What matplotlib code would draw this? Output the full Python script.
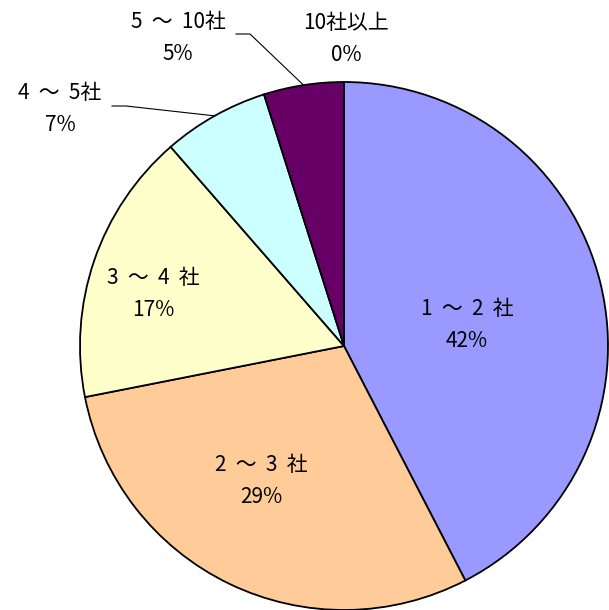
import numpy as np
import matplotlib
matplotlib.use("Agg")
import matplotlib.pyplot as plt

plt.rcParams['font.family'] = ['Noto Sans CJK JP', 'DejaVu Sans']

labels = ["1  ～  2  社", "2  ～  3  社", "3  ～  4  社", "4  ～  5社", "5  ～  10社", "10社以上"]
shares = [42.4, 29.5, 16.7, 6.5, 4.9, 0.0]
pct_text = ["42%", "29%", "17%", "7%", "5%", "0%"]
colors = ["#9999FF", "#FFCC99", "#FFFFCC", "#CCFFFF", "#660066", "#333399"]

fig = plt.figure(figsize=(6.09, 6.10), dpi=100)
# pie centre ~ (344, 346) px, radius ~264 px
ax = fig.add_axes([80 / 609, 0 / 610, 528 / 609, 528 / 610])

wedges, _ = ax.pie(
    shares, colors=colors, startangle=90, counterclock=False, radius=1.0,
    wedgeprops=dict(edgecolor="black", linewidth=1.3),
)
ax.set_xlim(-1, 1)
ax.set_ylim(-1, 1)
ax.set_aspect("auto")
ax.axis("off")

def px(x, y):
    return (x - 344) / 264, (346 - y) / 264

# label centres (pixel coords of reference)
label_pos = [(467, 325), (261, 481), (153, 294), (60, 109), (178, 38), (346, 39)]
for lab, pct, (x, y) in zip(labels, pct_text, label_pos):
    dx, dy = px(x, y)
    ax.text(dx, dy, f"{lab}\n{pct}", ha="center", va="center", fontsize=15,
            linespacing=1.6, clip_on=False)

# leader lines for the small slices
for i, (x0, y0, x1) in {3: (112, 106, 126), 4: (236, 34, 250)}.items():
    w = wedges[i]
    ang = np.deg2rad((w.theta1 + w.theta2) / 2)
    ex, ey = np.cos(ang), np.sin(ang)
    a, b = px(x0, y0)
    c, d = px(x1, y0)
    ax.plot([a, c, ex], [b, d, ey], color="black", linewidth=0.8, clip_on=False)

fig.savefig("out.png", dpi=100)
